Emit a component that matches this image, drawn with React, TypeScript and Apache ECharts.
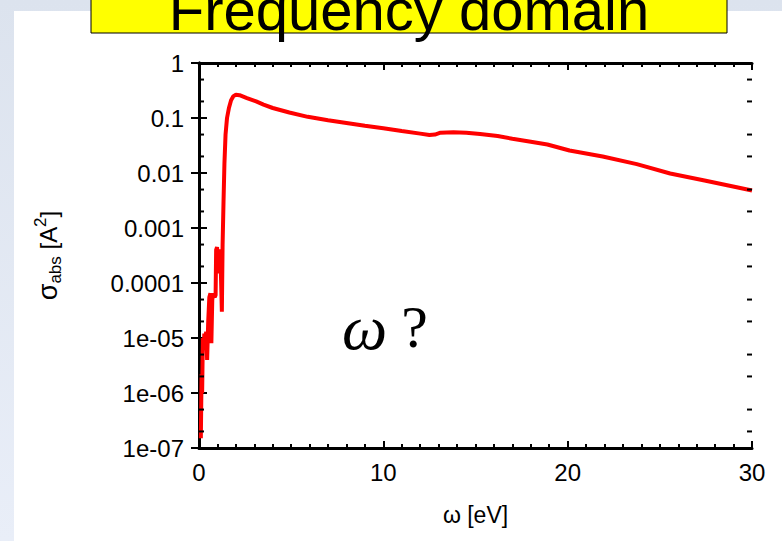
import React, { useEffect, useRef } from "react";
import * as echarts from "echarts";

// photon energy (eV)
const omega = [
  0.1, 0.14, 0.17, 0.21, 0.25, 0.29, 0.34, 0.39, 0.44, 0.5, 0.56, 0.62, 0.67, 0.72,
  0.78, 0.85, 0.9, 0.93, 0.98, 1.03, 1.08, 1.16, 1.24, 1.28, 1.33, 1.38, 1.44, 1.52,
  1.62, 1.74, 1.87, 2.0, 2.2, 2.6, 3.1, 3.5, 4.0, 4.9, 5.9, 7.0, 8.0, 9.0, 10.0, 11.0, 12.0,
  12.5, 12.8, 13.1, 13.8, 14.5, 15.25, 16.2, 17.0, 18.0, 18.9, 20.1, 21.9, 23.75,
  25.56, 27.36, 29.17, 30.0,
];
// absorption cross section (A^2)
const sigmaAbs = [
  1.5e-7, 2.2e-6, 1.0e-6, 1.0e-5, 6e-6, 1.2e-5, 9e-6, 1.3e-5, 4e-6, 2e-5, 5.5e-5, 6.5e-5,
  8e-6, 5e-5, 6.5e-5, 5.5e-5, 6e-5, 4e-4, 4.5e-4, 1.5e-4, 4e-4, 3.6e-4, 3e-5, 5e-4, 3e-3,
  1.5e-2, 5e-2, 0.1, 0.15, 0.21, 0.25, 0.265, 0.26, 0.23, 0.2, 0.175, 0.152, 0.126, 0.105, 0.091,
  0.081, 0.072, 0.065, 0.058, 0.052, 0.049, 0.05, 0.054, 0.055, 0.054, 0.051, 0.047,
  0.042, 0.037, 0.033, 0.0257, 0.02, 0.0145, 0.0098, 0.0074, 0.0055, 0.0048,
];

const xMin = 0;
const xMax = 30;
const xInterval = 10;
const yMin = 1e-7;
const yMax = 1;
const yTickLabels = ["1e-07", "1e-06", "1e-05", "0.0001", "0.001", "0.01", "0.1", "1"];
const yMinorTicks = [
  2e-7, 5e-7, 2e-6, 5e-6, 2e-5, 5e-5, 2e-4, 5e-4, 2e-3, 5e-3, 2e-2, 5e-2, 0.2, 0.5,
];

const FONT = '"Liberation Sans", Arial, sans-serif';
const SERIF = '"Liberation Serif", "DejaVu Serif", serif';

export default function App() {
  const ref = useRef<HTMLDivElement>(null);

  useEffect(() => {
    const chart = echarts.init(ref.current!, null, { renderer: "svg" });

    const axisLine = { show: true, lineStyle: { color: "#000", width: 3 } };

    chart.setOption({
      animation: false,
      backgroundColor: new echarts.graphic.LinearGradient(0, 0, 0, 1, [
        { offset: 0, color: "#dce3ee" },
        { offset: 1, color: "#e9eef8" },
      ]),
      grid: { left: 199, right: 30, top: 63, bottom: 93, containLabel: false },
      xAxis: [
        {
          type: "value",
          min: xMin,
          max: xMax,
          interval: xInterval,
          position: "bottom",
          name: "ω [eV]",
          nameLocation: "middle",
          nameGap: 55,
          nameTextStyle: { fontFamily: FONT, fontSize: 23, color: "#000" },
          axisLine,
          axisTick: { show: true, inside: true, length: 7, lineStyle: { color: "#000", width: 2 } },
          minorTick: { show: true, splitNumber: 10, length: 4, lineStyle: { color: "#000", width: 2 } },
          axisLabel: { fontFamily: FONT, fontSize: 24, color: "#000", margin: 12 },
          splitLine: { show: false },
        },
        {
          type: "value",
          min: xMin,
          max: xMax,
          interval: xInterval,
          position: "top",
          axisLine,
          axisTick: { show: true, inside: true, length: 7, lineStyle: { color: "#000", width: 2 } },
          minorTick: { show: true, splitNumber: 10, length: 4, lineStyle: { color: "#000", width: 2 } },
          axisLabel: { show: false },
          splitLine: { show: false },
        },
      ],
      yAxis: [
        {
          type: "log",
          logBase: 10,
          min: yMin,
          max: yMax,
          splitNumber: 7,
          position: "left",
          name: "{s|σ}{sub|abs} [A{sup|2}]",
          nameLocation: "middle",
          nameGap: 135,
          nameRotate: 90,
          nameTextStyle: {
            fontFamily: FONT,
            fontSize: 24,
            color: "#000",
            lineHeight: 32,
            rich: {
              s: { fontFamily: FONT, fontSize: 27, color: "#000", lineHeight: 32 },
              sub: { fontFamily: FONT, fontSize: 17, color: "#000", verticalAlign: "bottom", lineHeight: 16 },
              sup: { fontFamily: FONT, fontSize: 17, color: "#000", verticalAlign: "top", lineHeight: 16 },
            },
          },
          axisLine,
          axisTick: { show: true, inside: true, length: 8, lineStyle: { color: "#000", width: 2 } },
          axisLabel: {
            fontFamily: FONT,
            fontSize: 24,
            color: "#000",
            margin: 15,
            formatter: (v: number) => yTickLabels[Math.round(Math.log10(v)) + 7] ?? "",
          },
          splitLine: { show: false },
        },
        {
          type: "log",
          logBase: 10,
          min: yMin,
          max: yMax,
          splitNumber: 7,
          position: "right",
          axisLine,
          axisTick: { show: true, inside: true, length: 8, lineStyle: { color: "#000", width: 2 } },
          axisLabel: { show: false },
          splitLine: { show: false },
        },
      ],
      graphic: [
        {
          type: "rect",
          z: -10,
          shape: { x: 14, y: 11, width: 768, height: 530 },
          style: { fill: "#ffffff" },
        },
        {
          type: "rect",
          z: 5,
          shape: { x: 91, y: -5, width: 636, height: 38 },
          style: { fill: "#ffff00", stroke: "#000", lineWidth: 1 },
        },
        {
          type: "text",
          z: 6,
          x: 409,
          y: 9,
          style: {
            text: "Frequency domain",
            fontFamily: FONT,
            fontSize: 58,
            fill: "#000",
            align: "center",
            verticalAlign: "middle",
          },
        },
        {
          type: "text",
          z: 6,
          x: 342,
          y: 327,
          style: {
            text: "{w|ω}{q|?}",
            fontFamily: SERIF,
            fontSize: 60,
            fill: "#000",
            align: "left",
            verticalAlign: "middle",
            rich: {
              w: { fontFamily: SERIF, fontStyle: "italic", fontSize: 64, fill: "#000", padding: [0, 14, 0, 0] },
              q: { fontFamily: SERIF, fontSize: 60, fill: "#000" },
            },
          },
        },
      ],
      series: [
        {
          type: "line",
          xAxisIndex: 0,
          yAxisIndex: 0,
          data: omega.map((w, i) => [w, sigmaAbs[i]]),
          showSymbol: false,
          symbol: "none",
          lineStyle: { color: "#ff0000", width: 4 },
          z: 3,
        },
        {
          type: "custom",
          xAxisIndex: 0,
          yAxisIndex: 0,
          data: yMinorTicks.map((v) => [xMin, v]),
          encode: { x: 0, y: 1 },
          silent: true,
          z: 4,
          renderItem: (_params: any, api: any) => {
            const v = api.value(1);
            const l = api.coord([xMin, v]);
            const r = api.coord([xMax, v]);
            const style = { stroke: "#000", lineWidth: 2 };
            return {
              type: "group",
              children: [
                { type: "line", shape: { x1: l[0], y1: l[1], x2: l[0] + 5, y2: l[1] }, style },
                { type: "line", shape: { x1: r[0], y1: r[1], x2: r[0] - 5, y2: r[1] }, style },
              ],
            };
          },
        },
      ],
    });

    return () => chart.dispose();
  }, []);

  return (
    <div
      ref={ref}
      style={{ position: "fixed", left: 0, top: 0, width: 782, height: 541 }}
    />
  );
}
